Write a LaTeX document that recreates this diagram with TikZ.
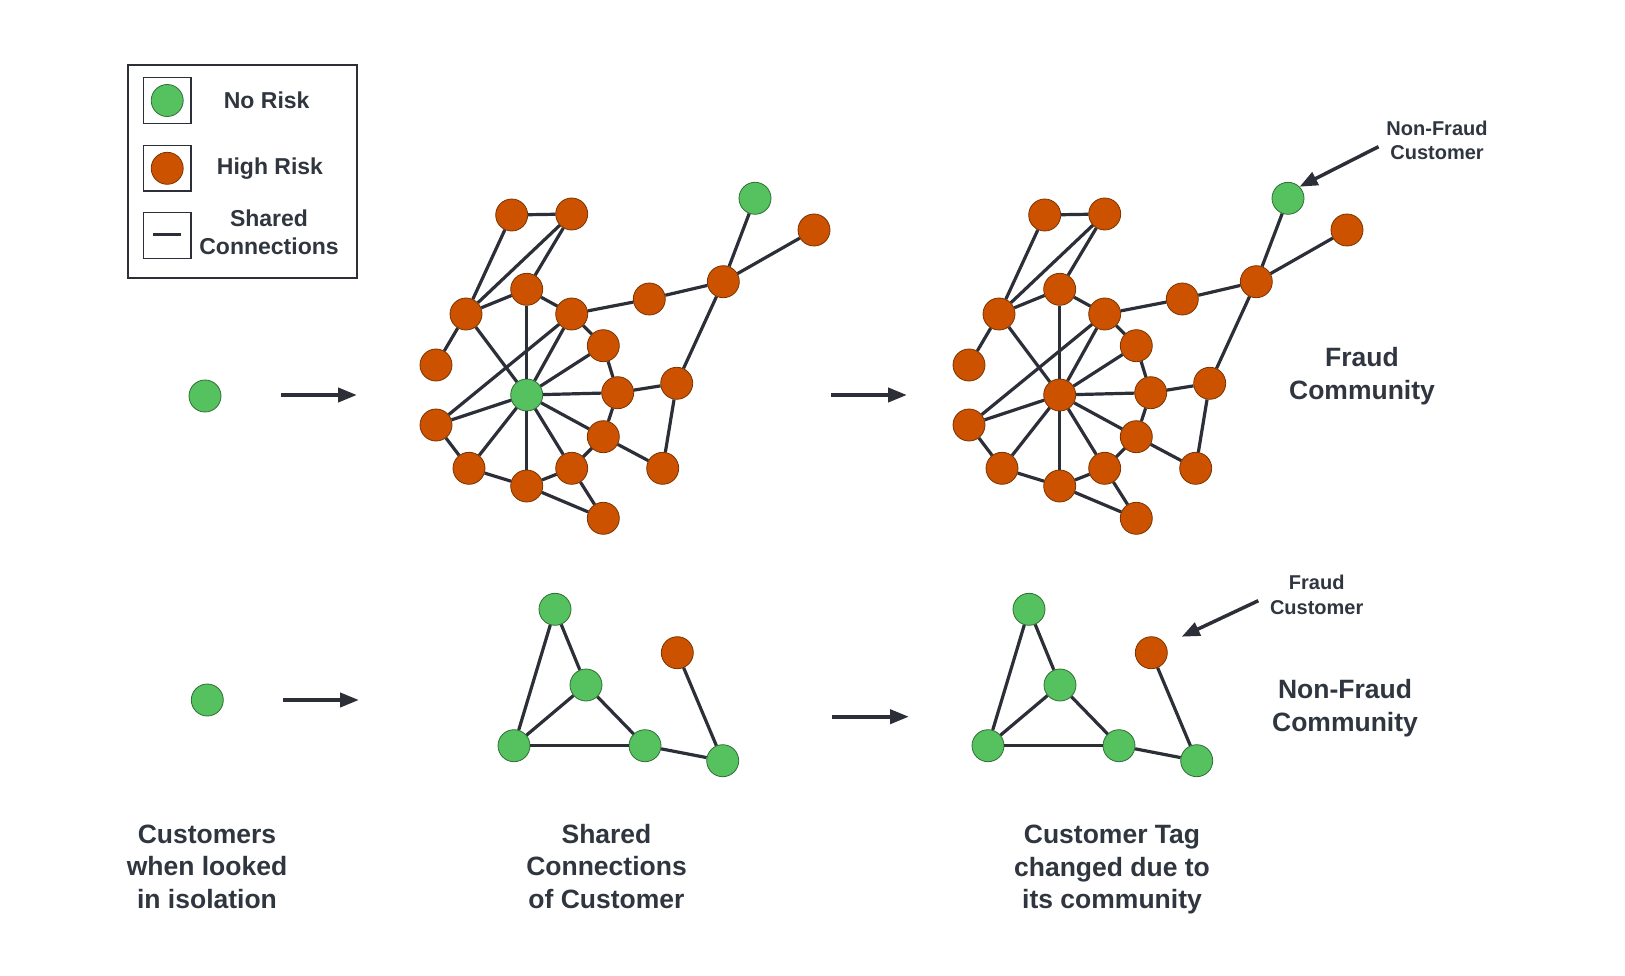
\documentclass[tikz,border=0pt]{standalone}
\usepackage{fontspec}
\setmainfont{Liberation Sans}
\usetikzlibrary{arrows.meta,backgrounds}
\definecolor{gfill}{HTML}{55C25F}
\definecolor{gline}{HTML}{2F6E35}
\definecolor{ofill}{HTML}{CC5200}
\definecolor{oline}{HTML}{7A3300}
\definecolor{ec}{HTML}{2C2F38}
\definecolor{tc}{HTML}{30363F}
\tikzset{
  grn/.style={circle, fill=gfill, draw=gline, line width=0.8pt, minimum size=32pt, inner sep=0pt},
  orn/.style={circle, fill=ofill, draw=oline, line width=0.8pt, minimum size=32pt, inner sep=0pt},
  link/.style={draw=ec, line width=3.2pt},
  bigarrow/.style={draw=ec, line width=4pt, -{Triangle[length=19pt,width=14pt]}},
  callarrow/.style={draw=ec, line width=3.5pt, -{Triangle[length=18pt,width=14pt]}},
  bigtext/.style={text=tc, font=\bfseries\fontsize{26.5}{32.5}\selectfont, align=center, inner sep=0pt},
  legtext/.style={text=tc, font=\bfseries\fontsize{23}{28}\selectfont, align=center, inner sep=0pt},
  smalltext/.style={text=tc, font=\bfseries\fontsize{20}{24.4}\selectfont, align=center, inner sep=0pt},
  legbox/.style={draw=ec, line width=1.2pt, minimum width=47.7pt, minimum height=45.6pt, inner sep=0pt},
}
% network drawing: #1 = style of the hub
\newcommand{\drawfraudnet}[1]{%
  \node[orn] (A) at (511.7,215) {};
  \node[orn] (B) at (571.7,214) {};
  \node[orn] (C) at (526.7,289.3) {};
  \node[orn] (D) at (466,314) {};
  \node[orn] (E) at (571.7,314) {};
  \node[orn] (F) at (649.3,299) {};
  \node[orn] (G) at (723.3,281.7) {};
  \node[grn] (H) at (755,198.3) {};
  \node[orn] (I) at (814,230) {};
  \node[orn] (J) at (436,365) {};
  \node[orn] (K) at (603.3,345.7) {};
  \node[#1] (X) at (526.7,395) {};
  \node[orn] (L) at (617.7,392.7) {};
  \node[orn] (M) at (676.7,383.3) {};
  \node[orn] (N) at (436,425) {};
  \node[orn] (O) at (603.3,436.7) {};
  \node[orn] (P) at (469,468.3) {};
  \node[orn] (Q) at (571.7,468.3) {};
  \node[orn] (R) at (526.7,486) {};
  \node[orn] (S) at (662.7,468.3) {};
  \node[orn] (T) at (603.3,518.3) {};
  \draw[link] (A) -- (B);
  \draw[link] (A) -- (D);
  \draw[link] (B) -- (D);
  \draw[link] (B) -- (C);
  \draw[link] (D) -- (C);
  \draw[link] (D) -- (J);
  \draw[link] (D) -- (X);
  \draw[link] (C) -- (X);
  \draw[link] (C) -- (E);
  \draw[link] (E) -- (F);
  \draw[link] (F) -- (G);
  \draw[link] (G) -- (H);
  \draw[link] (G) -- (I);
  \draw[link] (G) -- (M);
  \draw[link] (E) -- (N);
  \draw[link] (E) -- (X);
  \draw[link] (E) -- (K);
  \draw[link] (K) -- (X);
  \draw[link] (K) -- (L);
  \draw[link] (X) -- (L);
  \draw[link] (L) -- (M);
  \draw[link] (L) -- (O);
  \draw[link] (X) -- (N);
  \draw[link] (X) -- (O);
  \draw[link] (X) -- (P);
  \draw[link] (X) -- (Q);
  \draw[link] (X) -- (R);
  \draw[link] (N) -- (P);
  \draw[link] (P) -- (R);
  \draw[link] (R) -- (Q);
  \draw[link] (Q) -- (O);
  \draw[link] (O) -- (S);
  \draw[link] (S) -- (M);
  \draw[link] (R) -- (T);
  \draw[link] (Q) -- (T);
  \begin{scope}[on background layer]
    \draw[link] ([xshift=8.5pt]O.center) -- ([xshift=8.5pt]O.center |- T.center);
  \end{scope}
}
\newcommand{\drawsafenet}{%
  \node[grn] (a) at (555,609.3) {};
  \node[grn] (b) at (586,685) {};
  \node[grn] (c) at (514,745.7) {};
  \node[grn] (d) at (645,745.7) {};
  \node[orn] (e) at (677.3,652.7) {};
  \node[grn] (f) at (722.7,760.7) {};
  \draw[link] (a) -- (c);
  \draw[link] (a) -- (b);
  \draw[link] (b) -- (c);
  \draw[link] (b) -- (d);
  \draw[link] (c) -- (d);
  \draw[link] (d) -- (f);
  \draw[link] (e) -- (f);
}
\begin{document}
\begin{tikzpicture}[x=1pt,y=-1pt]
\useasboundingbox[fill=white] (0,0) rectangle (1625,976);

% legend
\node[draw=ec, line width=2pt, minimum width=228.4pt, minimum height=213.3pt, inner sep=0pt] (legend) at (242.5,171.7) {};
\node[legbox] (lb1) at (167.2,100.5) {};
\node[legbox] (lb2) at (167.2,168.3) {};
\node[legbox] (lb3) at (167.2,235.5) {};
\node[grn] (lc1) at (lb1) {};
\node[orn] (lc2) at (lb2) {};
\coordinate (ll1) at (153.3,235);
\coordinate (ll2) at (181,235);
\draw[draw=ec, line width=3pt] (ll1) -- (ll2);
\node[legtext] (lt1) at (266.7,100) {No Risk};
\node[legtext] (lt2) at (270,168.5) {High Risk};
\node[legtext] (lt3) at (269,232) {Shared\\Connections};

% isolated customers
\node[grn] (iso1) at (205,396) {};
\node[grn] (iso2) at (207.3,700) {};
\coordinate (a1s) at (280.7,395);
\coordinate (a1e) at (357,395);
\coordinate (a2s) at (282.7,700);
\coordinate (a2e) at (359,700);
\coordinate (a3s) at (831,395);
\coordinate (a3e) at (907,395);
\coordinate (a4s) at (831.7,716.7);
\coordinate (a4e) at (909,716.7);
\draw[bigarrow] (a1s) -- (a1e);
\draw[bigarrow] (a2s) -- (a2e);
\draw[bigarrow] (a3s) -- (a3e);
\draw[bigarrow] (a4s) -- (a4e);

% networks
\begin{scope}[name prefix=l-]
  \drawfraudnet{grn}
\end{scope}
\begin{scope}[name prefix=r-, xshift=533pt]
  \drawfraudnet{orn}
\end{scope}
\begin{scope}[name prefix=bl-]
  \drawsafenet
\end{scope}
\begin{scope}[name prefix=br-, xshift=474pt]
  \drawsafenet
\end{scope}

% callouts
\node[smalltext] (nfc) at (1437,140.5) {Non-Fraud\\Customer};
\coordinate (nfa) at (1378.5,146.7);
\draw[callarrow] (nfa) -- (r-H.north east);
\node[smalltext] (fc) at (1316.7,595) {Fraud\\Customer};
\coordinate (fca) at (1258.3,600.7);
\coordinate (fcb) at (1181.7,636.7);
\draw[callarrow] (fca) -- (fcb);

% community labels
\node[bigtext] (fcom) at (1362,376) {Fraud\\Community};
\node[bigtext] (nfcom) at (1345,708) {Non-Fraud\\Community};

% bottom captions
\node[bigtext] (cap1) at (207,866.5) {Customers\\when looked\\in isolation};
\node[bigtext] (cap2) at (606.5,866.5) {Shared\\Connections\\of Customer};
\node[bigtext] (cap3) at (1112,869.5) {Customer Tag\\changed due to\\its community};
\end{tikzpicture}
\end{document}
